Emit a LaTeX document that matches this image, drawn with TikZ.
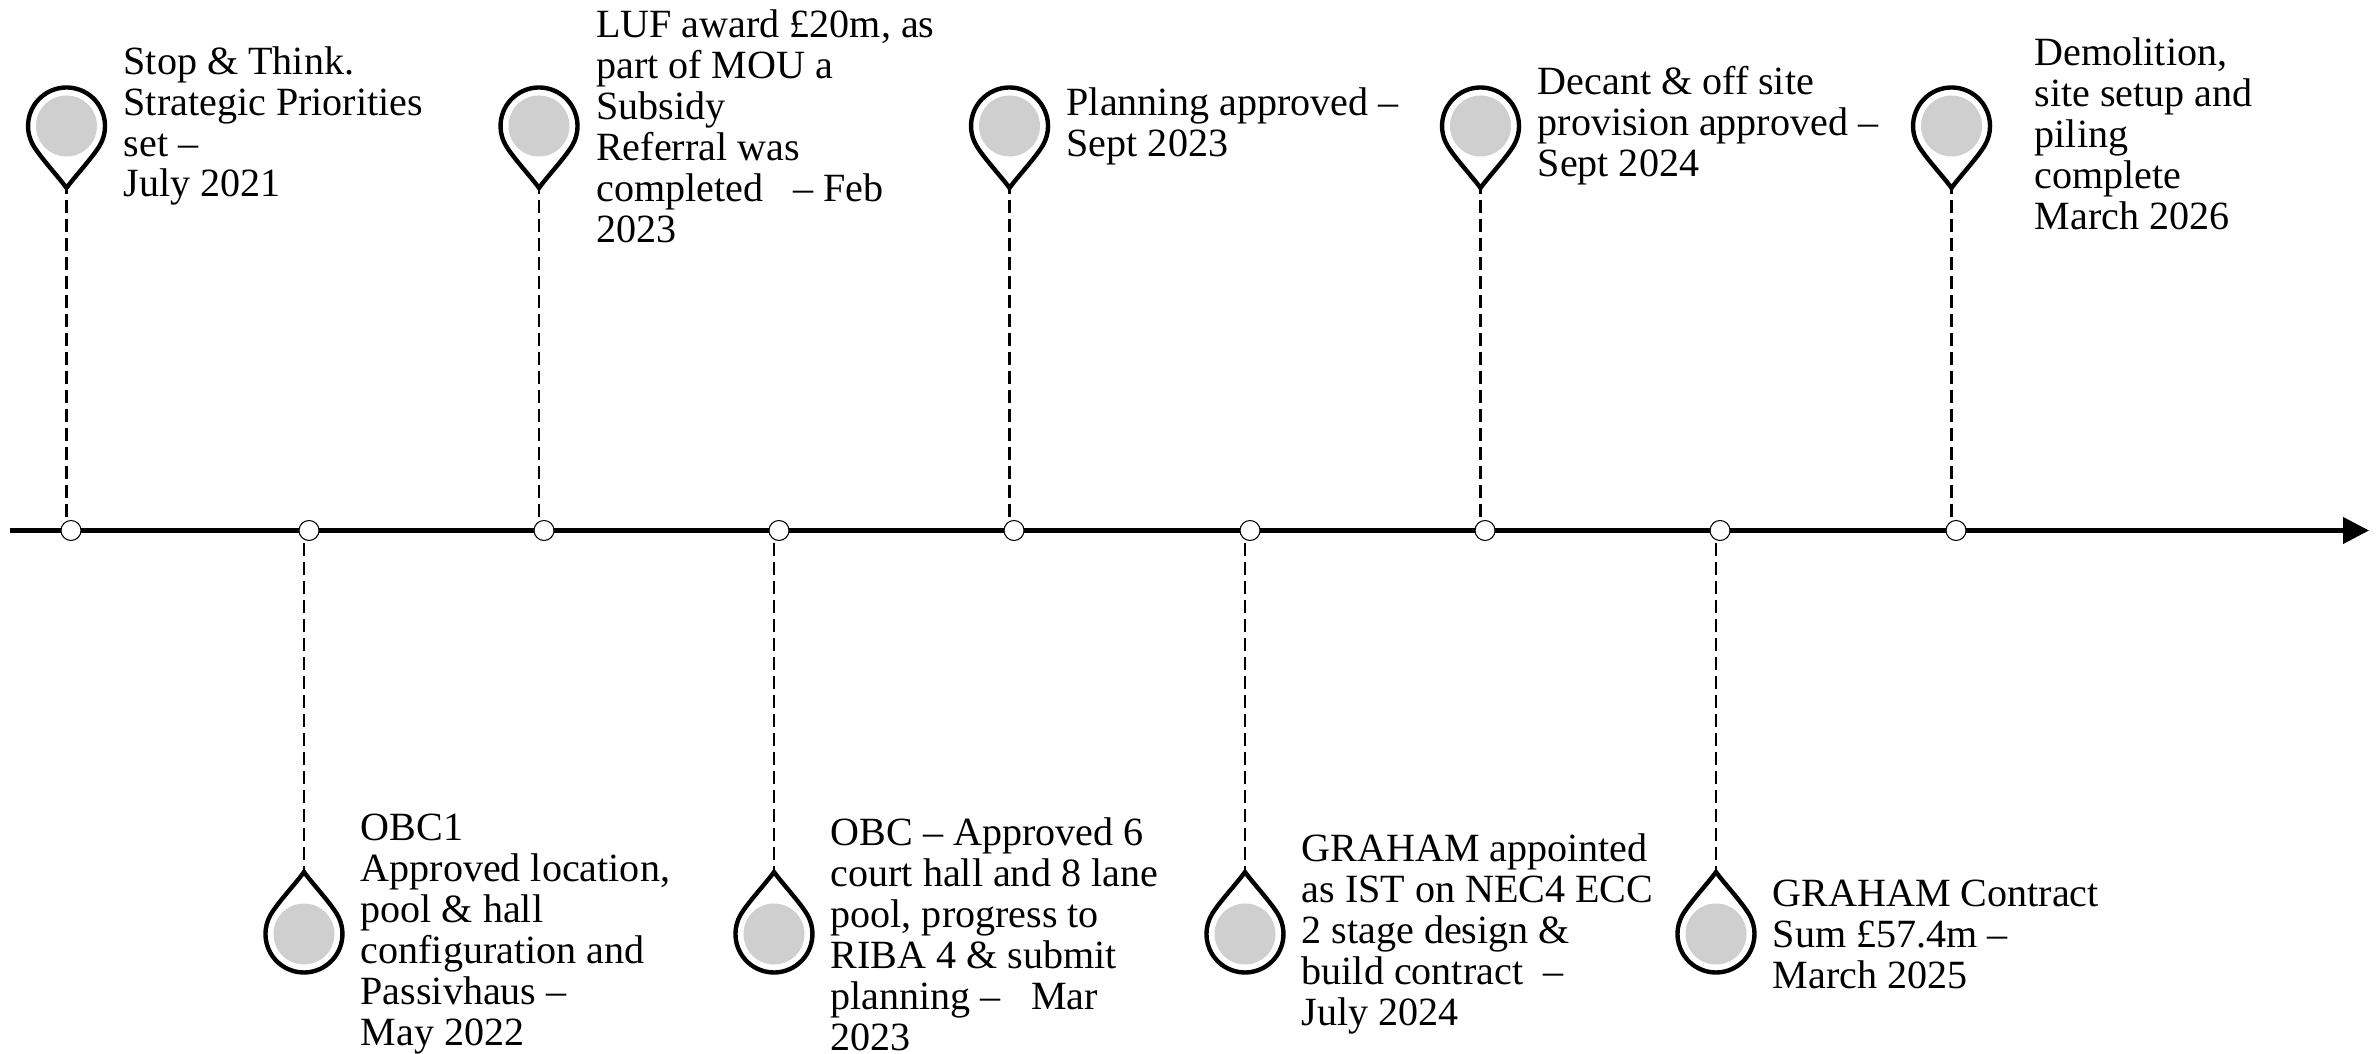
\documentclass[tikz,border=0pt]{standalone}
\usepackage{fontspec}
\setmainfont{Liberation Serif}
\usetikzlibrary{arrows.meta,positioning}
\definecolor{pingray}{RGB}{207,207,207}
\tikzset{
  milestone/.style={inner sep=0pt,align=left,font=\fontsize{11.4}{11.65}\selectfont},
  dot/.style={circle,draw,fill=white,line width=0.3pt,inner sep=0pt,minimum size=0.2cm},
  leader/.style={line width=0.8pt,dash pattern=on 3.7pt off 1.7pt,dash phase=2pt},
  pin/.pic={
    \fill[pingray] (0,0) circle (0.305);
    \draw[line width=1.25pt,miter limit=10] (-0.333,-0.1925) arc (210:-30:0.385)
      .. controls (0.263,-0.314) and (0.07,-0.52) .. (0,-0.62)
      .. controls (-0.07,-0.52) and (-0.263,-0.314) .. cycle;
    \coordinate (-c) at (0,0);
    \coordinate (-tip) at (0,-0.62);
  }
}
\begin{document}
\begin{tikzpicture}
  \useasboundingbox (0,0) rectangle (23.76,10.54);

  \coordinate (axisstart) at (0.10,5.235);
  \coordinate (axisend) at (23.69,5.235);
  \draw[-{Triangle[length=2.6mm,width=2.6mm]},line width=1.15pt] (axisstart) -- (axisend);

  \foreach \i/\x in {1/0.71,2/3.09,3/5.44,4/7.79,5/10.14,6/12.50,7/14.85,8/17.20,9/19.56} {
    \node[dot] (dot\i) at (\x,5.235) {};
  }

  % pins above and below the line
  \foreach \i/\x/\y/\r/\a in {1/0.665/9.28/0/north,2/3.04/1.20/180/south,3/5.39/9.28/0/north,4/7.74/1.20/180/south,5/10.095/9.28/0/north,6/12.45/1.20/180/south,7/14.805/9.28/0/north,8/17.16/1.20/180/south,9/19.515/9.28/0/north} {
    \pic[rotate=\r] (pin\i) at (\x,\y) {pin};
    \draw[leader] (pin\i-tip) -- (pin\i-tip |- dot\i.\a);
  }

  \node[milestone,right=0.565cm of pin1-c] (txt1) {Stop \& Think.\\Strategic Priorities\\set –\\July 2021};
  \node[milestone,right=0.56cm of pin2-c] (txt2) {OBC1\\Approved location,\\pool \& hall\\configuration and\\Passivhaus –\\May 2022};
  \node[milestone,right=0.565cm of pin3-c] (txt3) {LUF award £20m, as\\part of MOU a\\Subsidy\\Referral was\\completed \ \ – Feb\\2023};
  \node[milestone,right=0.56cm of pin4-c] (txt4) {OBC – Approved 6\\court hall and 8 lane\\pool, progress to\\RIBA 4 \& submit\\planning – \ \ Mar\\2023};
  \node[milestone,right=0.565cm of pin5-c] (txt5) {Planning approved –\\Sept 2023};
  \node[milestone,right=0.56cm of pin6-c] (txt6) {GRAHAM appointed\\as IST on NEC4 ECC\\2 stage design \&\\build contract \ –\\July 2024};
  \node[milestone,right=0.565cm of pin7-c] (txt7) {Decant \& off site\\provision approved –\\Sept 2024};
  \node[milestone,right=0.56cm of pin8-c] (txt8) {GRAHAM Contract\\Sum £57.4m –\\March 2025};
  \node[milestone,right=0.825cm of pin9-c,yshift=-0.08cm] (txt9) {Demolition,\\site setup and\\piling\\complete\\March 2026};

\end{tikzpicture}
\end{document}
